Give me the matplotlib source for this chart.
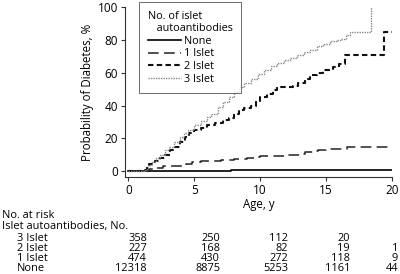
import matplotlib
matplotlib.use("Agg")
import matplotlib.pyplot as plt

plt.rcParams['font.family'] = ['Open Sans', 'DejaVu Sans']

# ---- data (step points) ----
t3 = [0, 1.2, 1.4, 1.5, 1.8, 2.1, 2.4, 2.8, 3.1, 3.5, 3.9, 4.2, 4.5, 5.0, 5.5, 6.0, 6.3,
      6.8, 7.2, 7.6, 8.0, 8.4, 8.8, 9.3, 9.8, 10.3, 10.8, 11.3, 11.8, 12.3, 12.8, 13.3,
      13.8, 14.3, 14.8, 15.3, 15.8, 16.1, 16.5, 16.8, 18.4]
v3 = [0, 0.5, 2, 4, 5.5, 8, 10, 13, 15, 18, 21, 23, 25, 28, 30.5, 33, 35,
      39, 42, 45, 48, 51, 53.5, 56, 59, 61.5, 64, 66, 67.5, 69, 71, 72.5,
      74, 76, 77.5, 79, 80, 80.5, 83, 85, 100]

t2 = [0, 1.2, 1.4, 1.6, 2.0, 2.4, 2.8, 3.2, 3.5, 3.9, 4.3, 4.6, 5.0, 5.5, 6.0, 6.6, 7.2,
      7.6, 8.0, 8.4, 8.8, 9.3, 9.7, 10.0, 10.5, 11.0, 11.3, 12.5, 12.9, 13.4, 13.8, 14.3,
      14.8, 15.5, 16.0, 16.4, 19.4, 20.0]
v2 = [0, 0.5, 3, 4.5, 6, 8, 10, 13, 15, 18, 21, 23, 25, 26.5, 28, 29.5, 31,
      32.5, 35, 37, 38.5, 40, 43, 45, 47, 49.5, 51, 52, 54, 56, 58.5, 60,
      61.5, 63.5, 65, 71, 85, 85]

t1 = [0, 1.3, 1.6, 2.0, 2.6, 4.4, 4.8, 5.5, 6.3, 7.0, 8.0, 9.0, 9.7, 10.0, 11.0, 12.0,
      13.0, 13.4, 14.0, 14.4, 15.0, 16.6, 20.0]
v1 = [0, 0.5, 1.5, 2, 3, 4.5, 5.5, 6, 6.5, 7, 7.5, 8, 8.5, 9, 9.5, 10,
      10.5, 11.5, 12.5, 13, 13.5, 15, 15]

t0 = [0, 1.5, 4.0, 7.8, 12.0, 16.0, 20.0]
v0 = [0, 0.2, 0.3, 0.5, 0.7, 0.8, 0.8]

series_labels = ['None', '1 Islet', '2 Islet', '3 Islet']
x_ticks = [0, 5, 10, 15, 20]
y_ticks = [0, 20, 40, 60, 80, 100]

risk_rows = ['3 Islet', '2 Islet', '1 Islet', 'None']
risk_values = [
    ['358', '250', '112', '20', ''],
    ['227', '168', '82', '19', '1'],
    ['474', '430', '272', '118', '9'],
    ['12318', '8875', '5253', '1161', '44'],
]

# ---- figure ----
W, H = 400, 274
fig = plt.figure(figsize=(W / 100, H / 100), dpi=100)
ax = fig.add_axes([125 / W, 1 - 177 / H, (392 - 125) / W, (177 - 7) / H])

ax.step(t0, v0, where='post', color='black', lw=1.2, label=series_labels[0])
ax.step(t1, v1, where='post', color='#222222', lw=1.1, dashes=(7, 3.5), label=series_labels[1])
ax.step(t2, v2, where='post', color='#111111', lw=1.5, dashes=(2.6, 1.6), label=series_labels[2])
ax.step(t3, v3, where='post', color='#8a8a8a', lw=1.0, dashes=(1, 0.8), label=series_labels[3])

ax.set_xlim(-0.25, 20)
ax.set_ylim(-3.5, 100)
ax.set_xticks(x_ticks)
ax.set_yticks(y_ticks)
ax.tick_params(labelsize=8.5, length=3, width=0.8, color='#333333', pad=2)
for s in ['top', 'right']:
    ax.spines[s].set_visible(False)
for s in ['left', 'bottom']:
    ax.spines[s].set_color('#333333')
    ax.spines[s].set_linewidth(0.8)

ax.set_xlabel('Age, y', fontsize=8.3, labelpad=1)
ax.set_ylabel('Probability of Diabetes, %', fontsize=8.3, labelpad=3)

leg = ax.legend(title='No. of islet\n   autoantibodies', loc='upper left',
                bbox_to_anchor=(0.052, 1.03), borderaxespad=0, fontsize=7.8,
                title_fontsize=7.8, frameon=True, fancybox=False, handlelength=3.1,
                handletextpad=0.3, labelspacing=0.15, borderpad=0.8)
leg._legend_box.align = 'left'
leg.get_frame().set_edgecolor('#444444')
leg.get_frame().set_linewidth(0.7)

# ---- risk table ----
def fx(px):
    return px / W

def fy(py):
    return 1 - py / H

fs = 7.9
fig.text(fx(2), fy(216), 'No. at risk', fontsize=fs, va='center', ha='left')
fig.text(fx(2), fy(227), 'Islet autoantibodies, No.', fontsize=fs, va='center', ha='left')
row_y = [238.5, 248.5, 258.5, 268.5]
col_right = [147, 220, 288, 350, 398]
for label, vals, yy in zip(risk_rows, risk_values, row_y):
    fig.text(fx(17), fy(yy), label, fontsize=fs, va='center', ha='left')
    for v, xr in zip(vals, col_right):
        if v:
            fig.text(fx(xr), fy(yy), v, fontsize=fs, va='center', ha='right')

fig.savefig('out.png', dpi=100)
